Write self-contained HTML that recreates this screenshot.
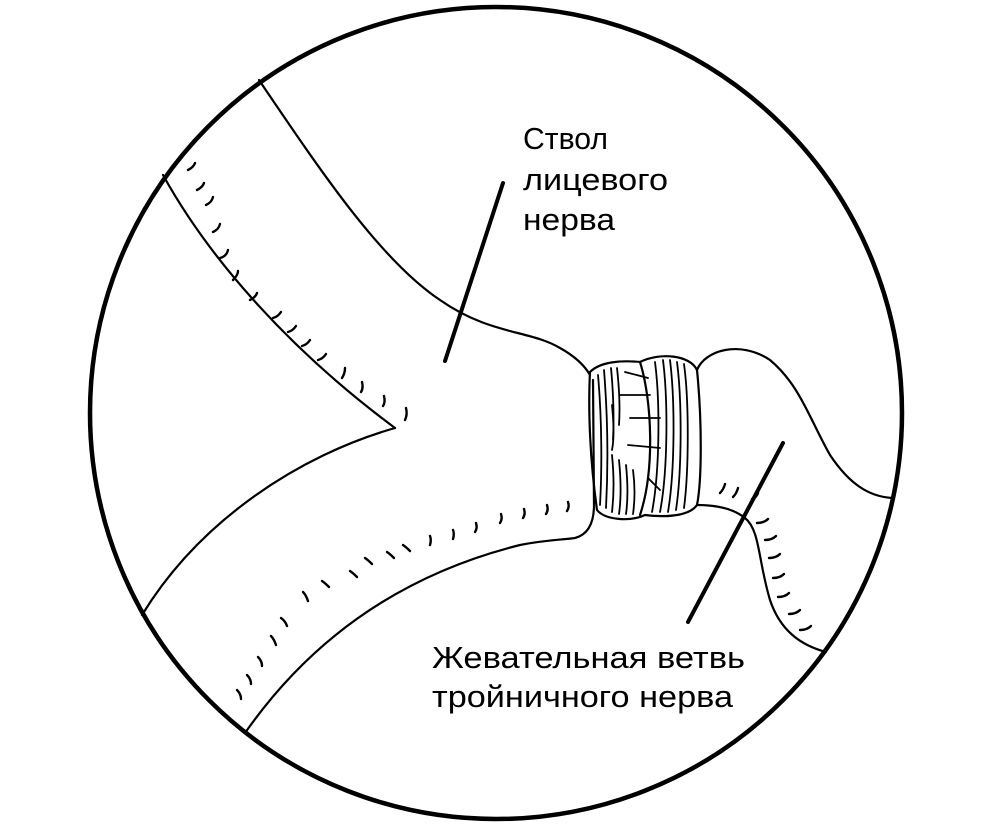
<!DOCTYPE html>
<html><head><meta charset="utf-8"><style>
html,body{margin:0;padding:0;background:#fff}
svg{display:block}
text{font-family:"Liberation Sans",sans-serif;font-size:31px;fill:#000}
</style></head><body>
<svg width="991" height="827" viewBox="0 0 991 827" xmlns="http://www.w3.org/2000/svg">
<g fill="none" stroke="#000" stroke-width="2.2" stroke-linecap="round">
<path d="M259 80 C320 170 380 260 440 300 C490 335 530 330 560 348 C578 358 586 368 590 375"/>
<path d="M163 175 C210 260 290 350 395 428"/>
<path d="M395 428 C300 455 200 520 142 615"/>
<path d="M245 733 C310 640 400 575 520 545 C545 540 560 540 575 538 C590 534 594 520 594 505 L593 380"/>
<path d="M590 372 C600 362 620 360 640 362 C660 352 690 355 697 370 C702 420 702 480 697 505 C690 515 670 518 645 515 C630 522 605 520 597 510 C590 460 588 410 590 372 Z"/>
<path d="M640 362 C652 400 655 470 640 515"/>
<g stroke-width="1.8">
<path d="M598 375 C602 420 602 470 600 505"/>
<path d="M604 370 C608 420 608 470 606 508"/>
<path d="M611 368 C614 400 614 420 613 440"/>
<path d="M617 368 C620 395 620 410 619 425"/>
<path d="M612 455 C614 475 614 495 612 512"/>
<path d="M619 460 C621 480 621 500 619 514"/>
<path d="M626 465 C628 485 628 500 626 514"/>
<path d="M633 470 C635 485 635 500 633 514"/>
<path d="M612 405 C614 425 614 440 612 450"/>
<path d="M620 395 L650 395"/>
<path d="M625 372 L648 378"/>
<path d="M630 418 L660 418"/>
<path d="M628 445 L660 448"/>
<path d="M655 362 C660 400 660 470 652 512"/>
<path d="M663 360 C668 400 668 470 660 512"/>
<path d="M670 360 C675 400 675 470 668 512"/>
<path d="M677 362 C682 400 682 470 676 510"/>
<path d="M684 364 C689 400 689 470 684 508"/>
<path d="M648 478 L660 490"/>
</g>
<path d="M697 370 C705 350 740 340 770 360 C800 385 810 420 830 455 C850 485 870 497 893 498"/>
<path d="M697 505 C720 505 735 510 745 518 C760 530 758 560 770 600 C780 630 800 645 826 652"/>
<path d="M503 183 L445 361" stroke-width="4"/>
<path d="M783 443 L688 622" stroke-width="4"/>
<g stroke-width="2.4">
<path d="M188 170 c4 -2 6 -4 7 -7"/><path d="M197 190 c4 -2 6 -4 7 -7"/><path d="M206 205 c4 -2 6 -4 7 -8"/>
<path d="M213 232 c4 -2 6 -4 7 -8"/><path d="M220 258 c4 -1 7 -4 8 -8"/><path d="M233 280 c3 -3 5 -6 5 -9"/>
<path d="M250 300 c4 -2 6 -4 7 -7"/><path d="M273 318 c4 -1 6 -3 8 -6"/><path d="M288 332 c4 -1 6 -3 8 -6"/>
<path d="M302 346 c4 -1 6 -3 8 -6"/><path d="M318 360 c4 -1 6 -3 8 -6"/><path d="M342 378 c2 -3 3 -6 3 -10"/>
<path d="M361 392 c2 -3 2 -6 1 -10"/><path d="M383 406 c2 -3 2 -6 1 -10"/><path d="M405 420 c2 -4 2 -8 1 -12"/>
<path d="M237 690 c3 3 4 6 4 9"/><path d="M247 675 c3 3 4 6 4 9"/><path d="M258 657 c3 3 4 6 4 9"/>
<path d="M271 636 c3 3 4 6 5 9"/><path d="M281 618 c3 2 5 5 6 8"/><path d="M303 592 c3 3 4 6 5 9"/>
<path d="M322 581 c3 2 5 4 7 6"/><path d="M350 571 c3 2 5 4 7 6"/><path d="M365 558 c3 2 5 4 7 6"/>
<path d="M387 552 c3 2 5 4 7 6"/><path d="M403 545 c3 2 5 4 7 6"/><path d="M430 536 c1 2 1 6 0 9"/>
<path d="M453 530 c1 2 1 6 0 9"/><path d="M476 523 c1 3 1 6 -1 9"/><path d="M501 514 c1 3 1 6 -1 9"/>
<path d="M524 509 c1 3 1 6 -1 9"/><path d="M547 505 c1 3 1 6 -1 9"/><path d="M568 502 c1 3 1 6 -1 9"/>
<path d="M720 493 c2 -2 4 -5 5 -9"/><path d="M733 497 c2 -2 4 -5 5 -9"/><path d="M752 499 c3 -1 5 -3 6 -6"/>
<path d="M757 523 c4 0 8 -1 11 -4"/><path d="M765 540 c4 0 8 -1 11 -4"/><path d="M769 558 c4 0 8 -1 11 -4"/>
<path d="M773 578 c4 0 8 -1 11 -4"/><path d="M778 597 c4 0 8 -1 11 -4"/><path d="M789 614 c4 0 8 -1 11 -4"/>
<path d="M800 630 c4 0 8 -1 11 -4"/>
</g>
<circle cx="496" cy="413" r="406" stroke-width="4.5"/>
</g>
<text x="523" y="149" textLength="85" lengthAdjust="spacingAndGlyphs">Ствол</text>
<text x="523" y="190" textLength="145" lengthAdjust="spacingAndGlyphs">лицевого</text>
<text x="523" y="230" textLength="92" lengthAdjust="spacingAndGlyphs">нерва</text>
<text x="432" y="668" textLength="313" lengthAdjust="spacingAndGlyphs">Жевательная ветвь</text>
<text x="432" y="707" textLength="301" lengthAdjust="spacingAndGlyphs">тройничного нерва</text>
</svg>
</body></html>
